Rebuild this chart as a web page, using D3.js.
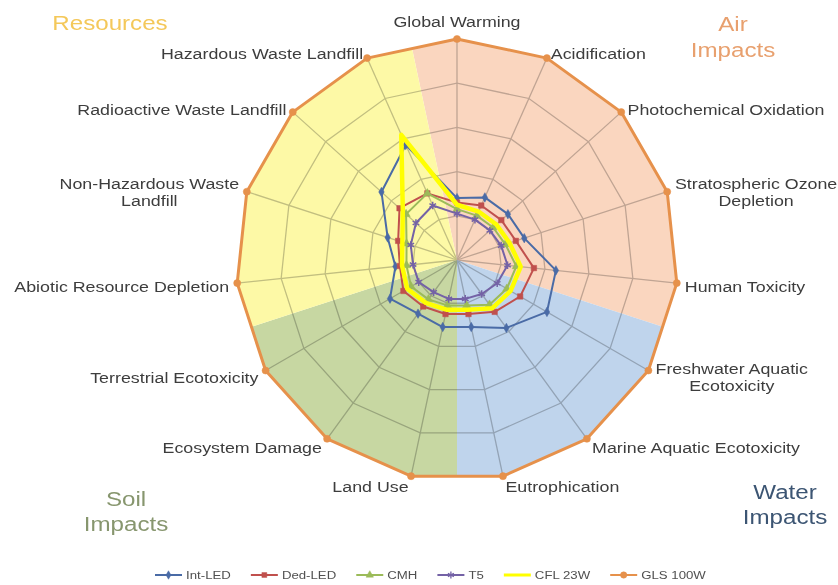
<!DOCTYPE html>
<html><head><meta charset="utf-8">
<script src="https://cdn.jsdelivr.net/npm/d3@7"></script>
<style>
html,body{margin:0;padding:0;background:#fff;}
svg{display:block;font-family:"Liberation Sans",Arial,sans-serif;}
</style></head><body>
<svg id="chart" width="838" height="585"></svg>
<script>
// ---------- data ----------
const categories = ["Global Warming","Acidification","Photochemical Oxidation","Stratospheric Ozone\nDepletion","Human Toxicity","Freshwater Aquatic\nEcotoxicity","Marine Aquatic Ecotoxicity","Eutrophication","Land Use","Ecosystem Damage","Terrestrial  Ecotoxicity","Abiotic Resource Depletion","Non-Hazardous Waste\nLandfill","Radioactive Waste Landfill","Hazardous Waste Landfill"];
const seriesNames = ["Int-LED","Ded-LED","CMH","T5","CFL 23W","GLS 100W"];
const intLED  = [28,31,31,32,45,47,38,31,31,30,35,28,33,46,57];
const dedLED  = [26,27,27,28,35,33,29,25,25,26,28,26,28,35,33];
const cmh     = [23,22,22,23,27,26,25,21,21,22,24,23,24,31,33];
const t5      = [21,20,20,21,23,21,19,18,18,18,20,20,22,25,27];
const cfl23W  = [25,24,24,25,29,28,27,23,23,24,26,25,26,33,62];
const gls100W = [100,100,100,100,100,100,100,100,100,100,100,100,100,100,100];
const gridTicks = [20,40,60,80,100];
const groupNames = ["Air\nImpacts","Water\nImpacts","Soil\nImpacts","Resources"];
const groupFirst = [0,5,8,11];
const groupLast  = [4,7,10,14];

// ---------- layout / style ----------
const cx = 457, cy = 260, R = 221, sx = 1.15;
const seriesData = [intLED, dedLED, cmh, t5, cfl23W, gls100W];
const seriesColors = ["#4a6ba6","#c0504d","#9bbb59","#7462a6","#ffff00","#e6914b"];
const seriesWidths = [2,2,2,2,4.5,3];
const seriesSymbols = [d3.symbolDiamond, d3.symbolSquare, d3.symbolTriangle, d3.symbolAsterisk || d3.symbolCross, null, d3.symbolCircle];
const seriesSymSize = [26,30,30,40,0,40];
const groupFill = ["#fad6bf","#bfd4ec","#c7d7a2","#fdf9a6"];
const groupText = ["#e8a06e","#3c5573","#87966e","#f4c85a"];
const groupPos = [[733,24.5],[785,492],[126,499],[110,23]];

const svg = d3.select("#chart");
const n = categories.length;
const angle = i => i * 2 * Math.PI / n;
const rScale = d3.scaleLinear().domain([0,100]).range([0,R]);
const pt = (i,v) => [cx + rScale(v)*Math.sin(angle(i)), cy - rScale(v)*Math.cos(angle(i))];
const mid = (a,b) => [(a[0]+b[0])/2,(a[1]+b[1])/2];

// sector fills
groupNames.forEach((g,k)=>{
  const s = groupFirst[k], e = groupLast[k];
  const pts = [[cx,cy], mid(pt((s-1+n)%n,100), pt(s,100))];
  for (let i=s;i<=e;i++) pts.push(pt(i,100));
  pts.push(mid(pt(e,100), pt((e+1)%n,100)));
  svg.append("path").attr("d", d3.line()(pts)+"Z").attr("fill", groupFill[k]);
});

// grid
const grid = svg.append("g").style("mix-blend-mode","multiply").attr("fill","none").attr("stroke","#c4c4c4").attr("stroke-width",1.3);
gridTicks.forEach(t=>{
  grid.append("path").attr("d", d3.line()(d3.range(n).map(i=>pt(i,t)))+"Z");
});
d3.range(n).forEach(i=>{
  grid.append("line").attr("x1",cx).attr("y1",cy).attr("x2",pt(i,100)[0]).attr("y2",pt(i,100)[1]);
});

// series
seriesData.forEach((vals,k)=>{
  const g = svg.append("g");
  const pts = vals.map((v,i)=>pt(i,v));
  g.append("path").attr("d", d3.line()(pts)+"Z").attr("fill","none")
    .attr("stroke", seriesColors[k]).attr("stroke-width", seriesWidths[k]).attr("stroke-linejoin","round");
  if (seriesSymbols[k]) {
    const sym = d3.symbol().type(seriesSymbols[k]).size(seriesSymSize[k]);
    const strokeOnly = seriesSymbols[k] === (d3.symbolAsterisk || null);
    g.selectAll("path.m").data(pts).join("path").attr("class","m")
      .attr("d", sym).attr("transform", d=>`translate(${d[0]},${d[1]})`)
      .attr("fill", strokeOnly ? "none" : seriesColors[k])
      .attr("stroke", seriesColors[k]).attr("stroke-width", strokeOnly?1.5:0.5);
  }
});

// text helper
function multiText(parent, str, x, y, anchor, size, color, lh){
  const lines = str.split("\n");
  const texts = lines.map(t=>parent.append("text").attr("dominant-baseline","central")
    .attr("text-anchor","middle").style("font-size",size+"px").attr("fill",color).text(t));
  const widths = texts.map(t=>t.node().getComputedTextLength()*sx);
  const Wm = d3.max(widths);
  texts.forEach((t,k)=>{
    const yy = y + (k - (lines.length-1)/2)*lh;
    const xx = anchor==="middle" ? x : anchor==="start" ? x + Wm/2 : x - Wm/2;
    t.attr("transform",`translate(${xx},${yy}) scale(${sx},1)`);
  });
  return Wm;
}

// category labels
const labG = svg.append("g");
categories.forEach((c,i)=>{
  const a = angle(i), s = Math.sin(a), co = Math.cos(a);
  const [vx,vy] = pt(i,100);
  let anchor, lx, ly;
  if (Math.abs(s) < 0.1) { anchor="middle"; lx=vx; ly=vy-17; }
  else {
    anchor = s>0 ? "start" : "end";
    const off = 7*Math.abs(s)+1;
    lx = vx + (s>0?off:-off);
    ly = vy - co*8 + 3;
  }
  multiText(labG, c, lx, ly, anchor, 15.5, "#3d3d3d", 17);
});

// group labels
groupNames.forEach((g,k)=>{
  const lines = g.split("\n").length;
  const [gx,gy] = groupPos[k];
  multiText(svg, g, gx, gy + (lines-1)*12.75, "middle", 21, groupText[k], 25.5);
});

// legend
const lg = svg.append("g");
let lx = 155; const ly = 575;
seriesNames.forEach((name,k)=>{
  lg.append("line").attr("x1",lx).attr("x2",lx+27).attr("y1",ly).attr("y2",ly)
    .attr("stroke",seriesColors[k]).attr("stroke-width", k===4?3:2);
  if (seriesSymbols[k]) {
    const strokeOnly = seriesSymbols[k] === (d3.symbolAsterisk || null);
    lg.append("path").attr("d", d3.symbol().type(seriesSymbols[k]).size(seriesSymSize[k]*0.8)())
      .attr("transform",`translate(${lx+13.5},${ly})`)
      .attr("fill", strokeOnly?"none":seriesColors[k]).attr("stroke",seriesColors[k]).attr("stroke-width",strokeOnly?1.3:0.5);
  }
  const w = multiText(lg, name, lx+31, ly, "start", 11.5, "#505050", 12);
  lx += 31 + w + 20;
});
</script>
</body></html>
